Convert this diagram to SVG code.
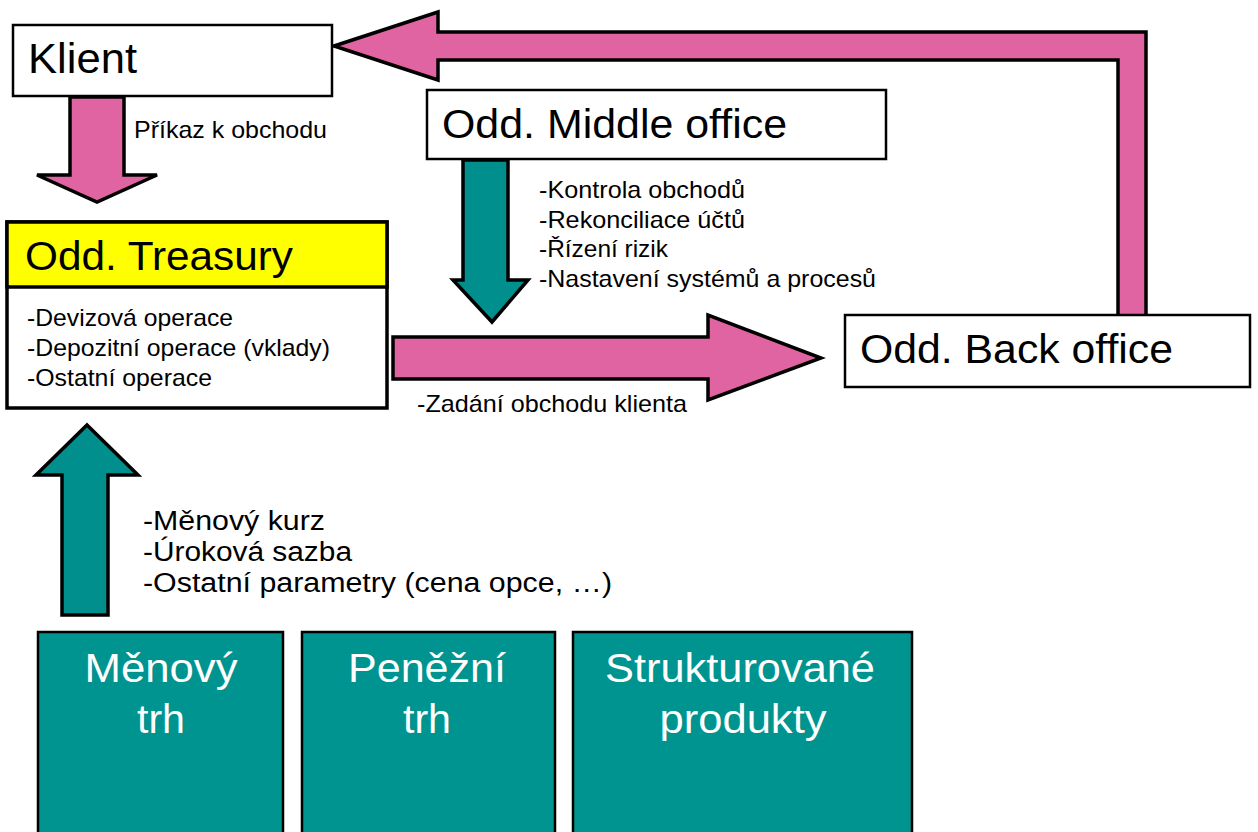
<svg xmlns="http://www.w3.org/2000/svg" width="1258" height="832" viewBox="0 0 1258 832">
  <style>
    text { font-family: "Liberation Sans", Arial, sans-serif; fill: #000; }
    .box { fill: #fff; stroke: #000; stroke-width: 2.5; }
    .market { fill: #009490; stroke: #000; stroke-width: 2.5; }
    .pink { fill: #E064A2; stroke: #000; stroke-width: 3.5; stroke-linejoin: miter; }
    .teal { fill: #008F8C; stroke: #000; stroke-width: 3.5; stroke-linejoin: miter; }
    .title { font-size: 40px; }
    .label { font-size: 24px; }
    .note { font-size: 27px; }
    .mk { font-size: 40px; fill: #fff; text-anchor: middle; }
  </style>

  <rect width="1258" height="832" fill="#fff"/>

  <!-- connectors: block arrows -->
  <g id="connectors">
    <!-- Back office back to client -->
    <polygon class="pink" points="334,46 438,12 438,32 1146,32 1146,316 1118,316 1118,60 438,60 438,80"/>
    <!-- client order to treasury -->
    <polygon class="pink" points="70,97 124,97 124,175 157,175 97,202 37,175 70,175"/>
    <!-- middle office control -->
    <polygon class="teal" points="463,160 508,160 508,280 528,280 492,322 453,280 463,280"/>
    <!-- treasury to back office -->
    <polygon class="pink" points="393,337 708,337 708,315 821,358 708,400 708,379 393,379"/>
    <!-- market data up to treasury -->
    <polygon class="teal" points="87,425 138,475 108,475 108,615 62,615 62,475 36,475"/>

    <text class="label" x="134" y="138" textLength="193" lengthAdjust="spacingAndGlyphs">Příkaz k obchodu</text>
    <g class="label">
      <text x="539" y="198" textLength="206" lengthAdjust="spacingAndGlyphs">-Kontrola obchodů</text>
      <text x="539" y="227.5" textLength="206" lengthAdjust="spacingAndGlyphs">-Rekonciliace účtů</text>
      <text x="539" y="257" textLength="129" lengthAdjust="spacingAndGlyphs">-Řízení rizik</text>
      <text x="539" y="286.5" textLength="337" lengthAdjust="spacingAndGlyphs">-Nastavení systémů a procesů</text>
    </g>
    <text class="label" x="417" y="412" textLength="270" lengthAdjust="spacingAndGlyphs">-Zadání obchodu klienta</text>
    <g class="note">
      <text x="143" y="530" textLength="182" lengthAdjust="spacingAndGlyphs">-Měnový kurz</text>
      <text x="143" y="561" textLength="209" lengthAdjust="spacingAndGlyphs">-Úroková sazba</text>
      <text x="143" y="592" textLength="469" lengthAdjust="spacingAndGlyphs">-Ostatní parametry  (cena opce, …)</text>
    </g>
  </g>

  <g id="klient">
    <rect class="box" x="13" y="25" width="319" height="71"/>
    <text x="28" y="73" font-size="42" textLength="109" lengthAdjust="spacingAndGlyphs">Klient</text>
  </g>

  <g id="middle-office">
    <rect class="box" x="427" y="90" width="459" height="69"/>
    <text class="title" x="442" y="138" textLength="345" lengthAdjust="spacingAndGlyphs">Odd. Middle office</text>
  </g>

  <g id="treasury">
    <rect x="7" y="222" width="380" height="186" fill="#fff" stroke="#000" stroke-width="3.5"/>
    <rect x="7" y="222" width="380" height="65" fill="#FFFF00" stroke="#000" stroke-width="3.5"/>
    <text class="title" x="25" y="270" textLength="268" lengthAdjust="spacingAndGlyphs">Odd. Treasury</text>
    <g class="label">
      <text x="27" y="326" textLength="206" lengthAdjust="spacingAndGlyphs">-Devizová operace</text>
      <text x="27" y="356" textLength="303" lengthAdjust="spacingAndGlyphs">-Depozitní operace (vklady)</text>
      <text x="27" y="386" textLength="185" lengthAdjust="spacingAndGlyphs">-Ostatní operace</text>
    </g>
  </g>

  <g id="back-office">
    <rect class="box" x="845" y="315" width="405" height="72"/>
    <text class="title" x="860" y="363" textLength="313" lengthAdjust="spacingAndGlyphs">Odd. Back office</text>
  </g>

  <g id="menovy-trh">
    <rect class="market" x="38" y="632" width="245" height="210"/>
    <text class="mk" x="161" y="682" textLength="153" lengthAdjust="spacingAndGlyphs">Měnový</text>
    <text class="mk" x="161" y="733" textLength="48" lengthAdjust="spacingAndGlyphs">trh</text>
  </g>

  <g id="penezni-trh">
    <rect class="market" x="302" y="632" width="253" height="210"/>
    <text class="mk" x="427" y="682" textLength="158" lengthAdjust="spacingAndGlyphs">Peněžní</text>
    <text class="mk" x="427" y="733" textLength="48" lengthAdjust="spacingAndGlyphs">trh</text>
  </g>

  <g id="strukturovane-produkty">
    <rect class="market" x="573" y="632" width="339" height="210"/>
    <text class="mk" x="740" y="682" textLength="270" lengthAdjust="spacingAndGlyphs">Strukturované</text>
    <text class="mk" x="743" y="733" textLength="167" lengthAdjust="spacingAndGlyphs">produkty</text>
  </g>
</svg>
